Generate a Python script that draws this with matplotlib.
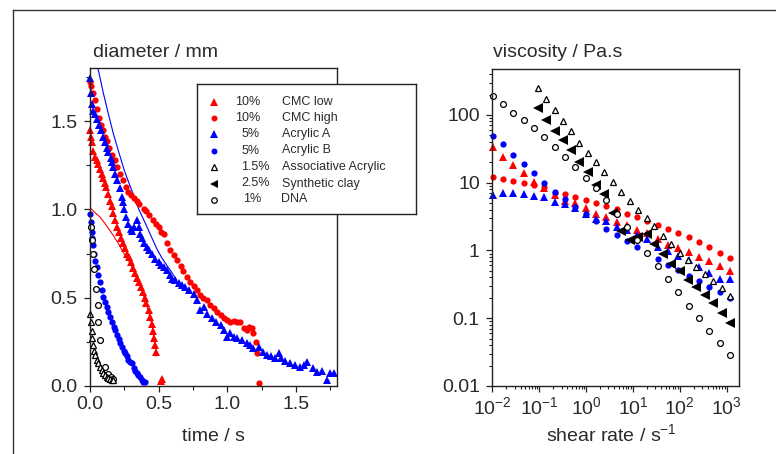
import math
import matplotlib
matplotlib.use("Agg")
import matplotlib.pyplot as plt
from matplotlib.ticker import MultipleLocator, FixedLocator, FuncFormatter, LogLocator, NullFormatter
from matplotlib.lines import Line2D

plt.rcParams['font.family'] = ['Liberation Sans', 'DejaVu Sans']
plt.rcParams['mathtext.fontset'] = 'custom'
plt.rcParams['mathtext.rm'] = 'Liberation Sans'
plt.rcParams['mathtext.it'] = 'Liberation Sans'

TXT = '#2a2a2a'

# ---------------- left: diameter vs time ----------------
cmc_low_t = [0, 0.005, 0.012, 0.024, 0.035, 0.048, 0.061, 0.075, 0.085, 0.097, 0.108, 0.117,
             0.13, 0.146, 0.158, 0.17, 0.185, 0.2, 0.213, 0.226, 0.243, 0.256, 0.27, 0.285,
             0.3, 0.315, 0.328, 0.345, 0.358, 0.372, 0.385, 0.398, 0.41, 0.426, 0.44, 0.45,
             0.462, 0.469, 0.476, 0.482, 0.515, 0.522]
cmc_low_d = [1.45, 1.41, 1.38, 1.33, 1.30, 1.28, 1.26, 1.23, 1.20, 1.18, 1.15, 1.13,
             1.09, 1.05, 1.02, 0.98, 0.94, 0.90, 0.87, 0.84, 0.81, 0.78, 0.75, 0.73,
             0.70, 0.67, 0.64, 0.61, 0.59, 0.56, 0.53, 0.50, 0.47, 0.43, 0.39, 0.35,
             0.31, 0.27, 0.23, 0.19, 0.03, 0.04]

cmc_high_t = [0.0, 0.01, 0.02, 0.035, 0.05, 0.065, 0.08, 0.095, 0.11, 0.122, 0.14, 0.16,
              0.18, 0.2, 0.22, 0.243, 0.26, 0.28, 0.30, 0.32, 0.34, 0.36, 0.39, 0.41,
              0.43, 0.46, 0.48, 0.50, 0.52, 0.535, 0.56, 0.583, 0.61, 0.632, 0.66, 0.68,
              0.705, 0.73, 0.755, 0.778, 0.80, 0.825, 0.851, 0.875, 0.9, 0.924, 0.95,
              0.975, 1.0, 1.02, 1.045, 1.07, 1.094, 1.12, 1.143, 1.16, 1.179, 1.19,
              1.209, 1.216, 1.228]
cmc_high_d = [1.72, 1.70, 1.66, 1.62, 1.57, 1.52, 1.48, 1.45, 1.41, 1.39, 1.35, 1.31,
              1.28, 1.24, 1.20, 1.165, 1.13, 1.098, 1.08, 1.065, 1.05, 1.03, 1.005, 0.99,
              0.97, 0.938, 0.92, 0.90, 0.875, 0.863, 0.81, 0.77, 0.74, 0.712, 0.68, 0.65,
              0.618, 0.59, 0.565, 0.543, 0.514, 0.50, 0.486, 0.46, 0.44, 0.42, 0.40,
              0.385, 0.373, 0.365, 0.37, 0.363, 0.363, 0.33, 0.317, 0.335, 0.33, 0.298,
              0.25, 0.186, 0.019]

acr_a_t = [0, 0.005, 0.012, 0.024, 0.035, 0.053, 0.065, 0.08, 0.097, 0.11, 0.122, 0.134,
           0.15, 0.16, 0.17, 0.185, 0.2, 0.215, 0.231, 0.24, 0.248, 0.263, 0.28, 0.295,
           0.304, 0.32, 0.34, 0.355, 0.365, 0.38, 0.395, 0.413, 0.43, 0.45, 0.474, 0.5,
           0.52, 0.535, 0.56, 0.58, 0.596, 0.62, 0.645, 0.669, 0.69, 0.72, 0.754, 0.78,
           0.80, 0.827, 0.85, 0.888, 0.92, 0.95, 0.973, 0.997, 1.02, 1.045, 1.07, 1.106,
           1.14, 1.167, 1.19, 1.228, 1.26, 1.289, 1.32, 1.35, 1.374, 1.39, 1.42, 1.459,
           1.49, 1.53, 1.555, 1.58, 1.62, 1.653, 1.69, 1.726, 1.75, 1.775]
acr_a_d = [1.745, 1.66, 1.60, 1.56, 1.54, 1.51, 1.48, 1.45, 1.41, 1.38, 1.35, 1.325,
           1.29, 1.27, 1.24, 1.20, 1.165, 1.12, 1.07, 1.04, 1.005, 0.96, 0.92, 0.89,
           0.88, 0.90, 0.938, 0.90, 0.864, 0.84, 0.81, 0.787, 0.77, 0.75, 0.722, 0.70,
           0.685, 0.674, 0.66, 0.63, 0.609, 0.60, 0.585, 0.571, 0.56, 0.545, 0.524, 0.49,
           0.43, 0.448, 0.41, 0.383, 0.36, 0.345, 0.317, 0.279, 0.30, 0.279, 0.27, 0.26,
           0.245, 0.232, 0.215, 0.222, 0.19, 0.175, 0.17, 0.16, 0.185, 0.16, 0.14, 0.128,
           0.12, 0.109, 0.12, 0.137, 0.10, 0.081, 0.085, 0.034, 0.075, 0.072]

acr_b_t = [0, 0.004, 0.008, 0.012, 0.018, 0.024, 0.03, 0.04, 0.049, 0.06, 0.073, 0.085,
           0.097, 0.11, 0.122, 0.134, 0.146, 0.16, 0.172, 0.182, 0.195, 0.208, 0.219,
           0.232, 0.245, 0.255, 0.268, 0.28, 0.292, 0.304, 0.318, 0.33, 0.34, 0.352,
           0.365, 0.378, 0.389, 0.40]
acr_b_d = [0.976, 0.93, 0.90, 0.87, 0.84, 0.80, 0.75, 0.71, 0.674, 0.63, 0.59, 0.545,
           0.505, 0.475, 0.448, 0.42, 0.392, 0.36, 0.335, 0.317, 0.29, 0.265, 0.241,
           0.22, 0.20, 0.185, 0.17, 0.15, 0.135, 0.128, 0.10, 0.085, 0.072, 0.065,
           0.05, 0.034, 0.025, 0.02]

assoc_t = [0.002, 0.006, 0.012, 0.018, 0.024, 0.03, 0.04, 0.049, 0.06, 0.073, 0.085,
           0.097, 0.11, 0.122, 0.134, 0.146, 0.16, 0.17]
assoc_d = [0.41, 0.36, 0.31, 0.27, 0.23, 0.20, 0.175, 0.147, 0.13, 0.109, 0.09,
           0.072, 0.06, 0.05, 0.044, 0.04, 0.036, 0.034]

dna_t = [0.005, 0.012, 0.024, 0.031, 0.041, 0.056, 0.061, 0.073, 0.11, 0.13, 0.15, 0.165]
dna_d = [0.90, 0.825, 0.75, 0.665, 0.552, 0.458, 0.363, 0.26, 0.11, 0.07, 0.05, 0.04]

# fitted lines
fit_red_t = [0, 0.04, 0.073, 0.11, 0.146, 0.18, 0.207, 0.24, 0.28, 0.32, 0.36, 0.40,
             0.43, 0.455, 0.47, 0.48, 0.482]
fit_red_d = [1.01, 0.98, 0.957, 0.92, 0.88, 0.84, 0.807, 0.76, 0.712, 0.65, 0.58, 0.49,
             0.41, 0.33, 0.26, 0.20, 0.17]
fit_blue_t = [0.045, 0.058, 0.1, 0.134, 0.17, 0.206, 0.25, 0.304, 0.35, 0.401, 0.45,
              0.486, 0.52, 0.559, 0.59, 0.608, 0.632]
fit_blue_d = [1.86, 1.80, 1.65, 1.54, 1.43, 1.334, 1.22, 1.108, 1.01, 0.925, 0.84,
              0.778, 0.73, 0.684, 0.65, 0.627, 0.60]

# ---------------- right: viscosity vs shear rate ----------------
rate = [0.0102, 0.017, 0.0282, 0.0468, 0.0776, 0.129, 0.214, 0.355, 0.589, 0.977,
        1.62, 2.69, 4.47, 7.41, 12.3, 20.4, 33.9, 56.2, 93.3, 155, 257, 427, 708, 1175]
visc_cmc_low = [34, 24.3, 18.3, 13.8, 10.4, 8.3, 6.6, 5.3, 5.0, 4.2, 3.5, 3.16,
                2.67, 2.38, 2.0, 1.8, 1.46, 1.21, 1.08, 0.96, 0.81, 0.71, 0.58, 0.50]
visc_cmc_high = [12.3, 11.4, 10.6, 9.8, 9.2, 8.5, 7.0, 6.8, 6.2, 5.6, 5.1, 4.5,
                 4.1, 3.5, 3.1, 2.7, 2.4, 2.1, 1.84, 1.6, 1.35, 1.11, 0.93, 0.77]
visc_acr_a = [6.6, 7.15, 7.15, 6.9, 6.4, 6.1, 5.2, 4.9, 4.3, 3.5, 2.9, 2.7,
              2.25, 2.0, 1.7, 1.5, 1.14, 0.99, 0.83, 0.73, 0.575, 0.46, 0.38, 0.376]
visc_acr_b = [49, 37, 25.7, 18.9, 13.8, 9.8, 7.4, 5.7, 4.4, 3.4, 2.7, 2.1,
              1.7, 1.38, 1.12, 0.93, 0.76, 0.61, 0.52, 0.42, 0.36, 0.29, 0.24, 0.2]
visc_dna = [190, 145, 108, 84, 64, 47, 34, 23.7, 16.9, 11.6, 8.3, 5.6,
            3.5, 2.25, 1.43, 0.93, 0.59, 0.38, 0.24, 0.152, 0.1, 0.064, 0.043, 0.029]

rate2 = [0.093, 0.141, 0.214, 0.316, 0.479, 0.724, 1.10, 1.66, 2.45, 3.72, 5.62, 8.51,
         12.9, 19.5, 28.8, 43.7, 66.1, 100, 151, 224, 339, 513, 776, 1200]
visc_assoc = [247, 170, 119, 82, 58, 39, 27.8, 20, 14.6, 10.4, 7.4, 5.4,
              4.0, 3.0, 2.3, 1.64, 1.25, 0.93, 0.73, 0.57, 0.45, 0.36, 0.28, 0.216]
visc_clay = [125, 84, 58, 43, 30, 20.5, 14.3, 9.1, 6.8, 3.55, 1.97, 1.43,
             1.6, 1.76, 1.25, 0.89, 0.63, 0.49, 0.37, 0.29, 0.22, 0.17, 0.12, 0.085]

legend_pct = ['10%', '10%', '5%', '5%', '1.5%', '2.5%', '1%']
legend_name = ['CMC low', 'CMC high', 'Acrylic A', 'Acrylic B',
               'Associative Acrylic', 'Synthetic clay', 'DNA']

W, H = 776, 454
fig = plt.figure(figsize=(W / 100, H / 100), dpi=100)

# outer frame
fig.add_artist(Line2D([13 / W, 1.0], [1 - 10 / H, 1 - 10 / H], transform=fig.transFigure,
                      color='#333333', lw=1.0))
fig.add_artist(Line2D([13 / W, 13 / W], [0, 1 - 10 / H], transform=fig.transFigure,
                      color='#333333', lw=1.0))

styles = {
    'red_tri': dict(marker='^', color='red', ms=6, mew=0, ls='none'),
    'red_dot': dict(marker='o', color='red', ms=4.5, mew=0, ls='none'),
    'blue_tri': dict(marker='^', color='blue', ms=6, mew=0, ls='none'),
    'blue_dot': dict(marker='o', color='blue', ms=4.5, mew=0, ls='none'),
    'open_tri': dict(marker='^', mfc='white', mec='black', ms=4.8, mew=0.9, ls='none'),
    'clay': dict(marker='<', color='black', ms=6.5, mew=0, ls='none'),
    'open_dot': dict(marker='o', mfc='white', mec='black', ms=4.2, mew=0.9, ls='none'),
}


def style_axes(ax):
    for s in ax.spines.values():
        s.set_color('#222222')
        s.set_linewidth(1.0)
    ax.tick_params(which='both', direction='out', colors='#222222', labelcolor=TXT,
                   labelsize=14)
    ax.tick_params(which='major', length=4, width=0.9)
    ax.tick_params(which='minor', length=3, width=0.8)
    ax.tick_params(axis='y', pad=5)
    ax.tick_params(axis='x', pad=3)


ax1 = fig.add_axes([90 / W, 1 - 386 / H, 247.3 / W, 317.7 / H])
ax1.plot(fit_red_t, fit_red_d, color='red', lw=0.8)
ax1.plot(fit_blue_t, fit_blue_d, color='blue', lw=0.8)
ax1.plot(cmc_high_t, cmc_high_d, clip_on=False, **styles['red_dot'])
ax1.plot(acr_a_t, acr_a_d, clip_on=False, **styles['blue_tri'])
ax1.plot(cmc_low_t, cmc_low_d, clip_on=False, **styles['red_tri'])
ax1.plot(acr_b_t, acr_b_d, clip_on=False, **styles['blue_dot'])
ax1.plot(dna_t, dna_d, clip_on=False, **styles['open_dot'])
ax1.plot(assoc_t, assoc_d, clip_on=False, **styles['open_tri'])
ax1.set_xlim(0, 1.8)
ax1.set_ylim(0, 1.8)
ax1.xaxis.set_major_locator(FixedLocator([0, 0.5, 1.0, 1.5]))
ax1.yaxis.set_major_locator(FixedLocator([0, 0.5, 1.0, 1.5]))
ax1.xaxis.set_minor_locator(MultipleLocator(0.25))
ax1.yaxis.set_minor_locator(MultipleLocator(0.25))
ax1.xaxis.set_major_formatter(FuncFormatter(lambda v, p: f'{v:.1f}'))
ax1.yaxis.set_major_formatter(FuncFormatter(lambda v, p: f'{v:.1f}'))
style_axes(ax1)

ax2 = fig.add_axes([492.3 / W, 1 - 386 / H, 247 / W, 317 / H])
ax2.set_xscale('log')
ax2.set_yscale('log')
ax2.plot(rate, visc_cmc_high, clip_on=False, **styles['red_dot'])
ax2.plot(rate, visc_cmc_low, clip_on=False, **styles['red_tri'])
ax2.plot(rate, visc_acr_a, clip_on=False, **styles['blue_tri'])
ax2.plot(rate, visc_acr_b, clip_on=False, **styles['blue_dot'])
ax2.plot(rate2, visc_clay, clip_on=False, **styles['clay'])
ax2.plot(rate2, visc_assoc, clip_on=False, **styles['open_tri'])
ax2.plot(rate, visc_dna, clip_on=False, **styles['open_dot'])
ax2.set_xlim(0.01, 1860)
ax2.set_ylim(0.01, 476)
ax2.xaxis.set_major_locator(FixedLocator([1e-2, 1e-1, 1, 10, 100, 1000]))
ax2.xaxis.set_major_formatter(FuncFormatter(
    lambda v, p: '10$^{\\mathregular{%d}}$' % round(math.log10(v))))
ax2.yaxis.set_major_locator(FixedLocator([0.01, 0.1, 1, 10, 100]))
ax2.yaxis.set_major_formatter(FuncFormatter(
    lambda v, p: {0.01: '0.01', 0.1: '0.1', 1: '1', 10: '10', 100: '100'}.get(round(v, 2), '')))
ax2.xaxis.set_minor_locator(LogLocator(base=10, subs=range(2, 10), numticks=20))
ax2.yaxis.set_minor_locator(LogLocator(base=10, subs=range(2, 10), numticks=20))
ax2.xaxis.set_minor_formatter(NullFormatter())
ax2.yaxis.set_minor_formatter(NullFormatter())
style_axes(ax2)
ax2.tick_params(which='minor', length=2.5)

# titles and axis labels
fig.text(93 / W, 1 - 57 / H, 'diameter / mm', fontsize=14, color=TXT, va='baseline')
fig.text(492.7 / W, 1 - 57 / H, 'viscosity / Pa.s', fontsize=14, color=TXT, va='baseline')
fig.text(213 / W, 1 - 441 / H, 'time / s', fontsize=14, color=TXT, va='baseline', ha='center')
fig.text(611 / W, 1 - 441 / H, 'shear rate / s$^{-1}$', fontsize=14, color=TXT,
         va='baseline', ha='center')

# legend box drawn in pixel coordinates
leg = fig.add_axes([197 / W, 1 - 214 / H, 219 / W, 130 / H])
leg.set_xlim(197, 416)
leg.set_ylim(214, 84)
leg.set_xticks([])
leg.set_yticks([])
for s in leg.spines.values():
    s.set_color('#222222')
    s.set_linewidth(1.0)
leg_styles = ['red_tri', 'red_dot', 'blue_tri', 'blue_dot', 'open_tri', 'clay', 'open_dot']
row_y = [101.7, 117.8, 134, 150.5, 167, 183.5, 199.5]
pct_x = [235, 235, 241.5, 241.5, 241.5, 241.5, 243]
for st, y, pct, px, name in zip(leg_styles, row_y, legend_pct, pct_x, legend_name):
    kw = dict(styles[st])
    kw['ms'] = kw['ms'] * 0.95
    leg.plot([213.5], [y], **kw)
    leg.text(px, y, pct, fontsize=9, color=TXT, va='center')
    leg.text(281.5, y, name, fontsize=9, color=TXT, va='center')

fig.savefig('out.png', dpi=100)
